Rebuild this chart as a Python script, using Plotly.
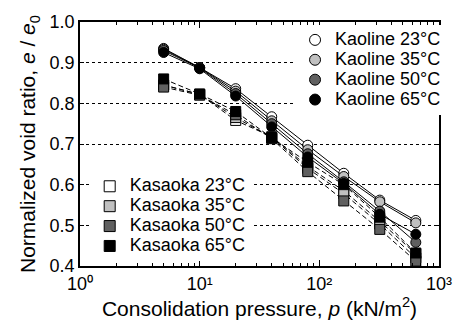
import plotly.graph_objects as go

# Consolidation pressure steps (kN/m^2)
pressure = [5, 10, 20, 40, 80, 160, 320, 640]

# Normalized void ratio e/e0 for each clay and test temperature
kaoline_23 = [0.935, 0.888, 0.836, 0.767, 0.697, 0.628, 0.562, 0.512]
kaoline_35 = [0.933, 0.888, 0.830, 0.757, 0.686, 0.620, 0.558, 0.506]
kaoline_50 = [0.930, 0.887, 0.824, 0.750, 0.676, 0.607, 0.535, 0.458]
kaoline_65 = [0.925, 0.885, 0.818, 0.742, 0.668, 0.603, 0.527, 0.478]

kasaoka_23 = [0.845, 0.822, 0.758, 0.718, 0.645, 0.585, 0.510, 0.430]
kasaoka_35 = [0.845, 0.822, 0.765, 0.716, 0.640, 0.578, 0.503, 0.420]
kasaoka_50 = [0.840, 0.820, 0.772, 0.713, 0.632, 0.560, 0.490, 0.412]
kasaoka_65 = [0.860, 0.823, 0.780, 0.715, 0.655, 0.600, 0.520, 0.432]

temps = ["23", "35", "50", "65"]
fills = ["#ffffff", "#c0c0c0", "#606060", "#000000"]

x_major = [1, 10, 100, 1000]
x_major_text = ["10⁰", "10¹", "10²", "10³"]
x_minor = [m * d for d in (1, 10, 100) for m in range(2, 10)]

FONT = "Liberation Sans, Arial, sans-serif"


def sized(text, px):
    return f'<span style="font-size:{px}px">{text}</span>'


fig = go.Figure()

groups = [
    ("Kaoline", [kaoline_23, kaoline_35, kaoline_50, kaoline_65], "circle", "solid", "legend"),
    ("Kasaoka", [kasaoka_23, kasaoka_35, kasaoka_50, kasaoka_65], "square", "5px,3px", "legend2"),
]

for name, series, symbol, dash, leg in groups:
    for t, fill, vals in zip(temps, fills, series):
        fig.add_trace(go.Scatter(
            x=pressure, y=vals, mode="lines+markers",
            line=dict(color="black", width=1, dash=dash),
            marker=dict(symbol=symbol, size=10, color=fill,
                        line=dict(color="black", width=1)),
            showlegend=False,
        ))

# Marker-only legend entries
for name, series, symbol, dash, leg in groups:
    for t, fill in zip(temps, fills):
        fig.add_trace(go.Scatter(
            x=[None], y=[None], mode="markers",
            marker=dict(symbol=symbol, size=11, color=fill,
                        line=dict(color="black", width=1)),
            name=sized(f"{name} {t}°C", 18),
            legend=leg,
        ))

x_title = "Consolidation pressure, <i>p</i> (kN/m<sup>2</sup>)"
y_title = "Normalized void ratio, <i>e</i> / <i>e</i><sub>0</sub>"

fig.update_layout(
    width=464, height=327,
    margin=dict(l=80, r=15, t=22, b=60),
    paper_bgcolor="white", plot_bgcolor="white",
    font=dict(family=FONT, size=18, color="black"),
    legend=dict(x=0.599, y=0.988, xanchor="left", yanchor="top",
                bgcolor="white", borderwidth=0, font=dict(size=13),
                itemwidth=30),
    legend2=dict(x=0.027, y=0.388, xanchor="left", yanchor="top",
                 bgcolor="white", borderwidth=0, font=dict(size=13),
                 itemwidth=30),
    xaxis=dict(
        type="log", range=[0, 3],
        tickmode="array", tickvals=x_major, ticktext=x_major_text,
        ticks="inside", ticklen=6, tickwidth=1, tickcolor="black",
        minor=dict(tickmode="array", tickvals=x_minor, ticks="inside",
                   ticklen=3, tickwidth=1, tickcolor="black", showgrid=False),
        showline=True, linecolor="black", linewidth=1.5, mirror="ticks",
        showgrid=False, zeroline=False,
        tickfont=dict(size=18), ticklabelstandoff=1,
        title=dict(text=x_title, font=dict(size=21), standoff=6),
    ),
    yaxis=dict(
        range=[0.4, 1.0], dtick=0.1, tickformat=".1f",
        ticks="inside", ticklen=4, tickwidth=1, tickcolor="black",
        showline=True, linecolor="black", linewidth=1.5, mirror="ticks",
        showgrid=True, gridcolor="black", gridwidth=1, griddash="dot",
        zeroline=False,
        tickfont=dict(size=18),
        title=dict(text=y_title, font=dict(size=21), standoff=8),
    ),
)

fig.write_html("out.html")
